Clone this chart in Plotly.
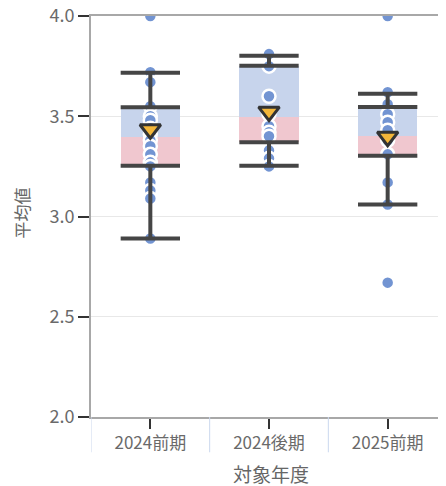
import plotly.graph_objects as go

# 対象年度ごとの平均値
categories = ["2024前期", "2024後期", "2025前期"]

points_2024a = [4.0, 3.72, 3.67, 3.55, 3.5, 3.48, 3.44, 3.41, 3.38, 3.35, 3.31,
                3.27, 3.25, 3.17, 3.13, 3.09, 2.89]
points_2024b = [3.81, 3.75, 3.6, 3.51, 3.45, 3.42, 3.40, 3.33, 3.29, 3.25]
points_2025a = [4.0, 3.62, 3.56, 3.51, 3.47, 3.43, 3.38, 3.31, 3.17, 3.06, 2.67]
points = [points_2024a, points_2024b, points_2025a]

q1 = [3.253, 3.37, 3.303]
median = [3.395, 3.495, 3.403]
q3 = [3.545, 3.752, 3.546]
whisker_lo = [2.89, 3.253, 3.06]
whisker_hi = [3.717, 3.802, 3.612]
means = [3.435, 3.523, 3.398]

FONT = "Noto Sans CJK JP"
BOX_W = 0.5
LINE_COLOR = "#454545"

xs = list(range(len(categories)))

fig = go.Figure()

# 箱：下半分（Q1〜中央値）ピンク、上半分（中央値〜Q3）青
fig.add_trace(go.Bar(
    x=xs, base=q1, y=[m - a for m, a in zip(median, q1)],
    width=BOX_W, marker=dict(color="#f0c7cf", line=dict(width=0)),
    hoverinfo="skip", showlegend=False,
))
fig.add_trace(go.Bar(
    x=xs, base=median, y=[b - m for b, m in zip(q3, median)],
    width=BOX_W, marker=dict(color="#c7d4ec", line=dict(width=0)),
    hoverinfo="skip", showlegend=False,
))

# 個別の点
for i, vals in enumerate(points):
    fig.add_trace(go.Scatter(
        x=[i] * len(vals), y=vals, mode="markers",
        marker=dict(size=13, color="#7294d2", line=dict(width=2.5, color="white")),
        showlegend=False,
    ))

# ひげと四分位線
lx, ly = [], []
h = BOX_W / 2
for i in xs:
    for v in (whisker_lo[i], q1[i], q3[i], whisker_hi[i]):
        lx += [i - h, i + h, None]
        ly += [v, v, None]
    lx += [i, i, None, i, i, None]
    ly += [whisker_lo[i], q1[i], None, q3[i], whisker_hi[i], None]
fig.add_trace(go.Scatter(
    x=lx, y=ly, mode="lines", line=dict(color=LINE_COLOR, width=4),
    hoverinfo="skip", showlegend=False,
))

# 平均値
fig.add_trace(go.Scatter(
    x=xs, y=means, mode="markers",
    marker=dict(symbol="triangle-down", size=18, color="#f3b63a",
                line=dict(width=3, color="#333333")),
    showlegend=False,
))

# カテゴリ境界の区切り線
for b in [i - 0.5 for i in xs] + [len(xs) - 0.5]:
    fig.add_shape(type="line", xref="x", yref="paper", x0=b, x1=b, y0=0, y1=-0.088,
                  line=dict(color="#cbd8ee", width=1))

# 軸タイトル
fig.add_annotation(text="平均値", xref="paper", yref="paper", x=-0.194, y=0.51,
                   textangle=-90, showarrow=False, xanchor="center", yanchor="middle",
                   font=dict(size=17, color="#666666"))
fig.add_annotation(text="対象年度", xref="paper", yref="paper", x=0.507, y=-0.142,
                   showarrow=False, xanchor="center", yanchor="middle",
                   font=dict(size=19, color="#666666"))

fig.update_layout(
    width=446, height=486,
    margin=dict(l=83, r=7, t=8, b=77),
    plot_bgcolor="white", paper_bgcolor="white",
    barmode="overlay", bargap=0,
    font=dict(family=FONT, color="#666666", size=15),
    xaxis=dict(
        range=[-0.5, 2.5], tickvals=xs, ticktext=categories,
        showgrid=False, zeroline=False, automargin=False,
        showline=True, linecolor="#a8a8a8", linewidth=2, mirror=True,
        ticks="outside", ticklen=10, tickwidth=2, tickcolor="#333333",
        tickfont=dict(size=17, color="#6a6a6a"), ticklabeloverflow="allow",
    ),
    yaxis=dict(
        range=[2.0, 4.0], tickvals=[2.0, 2.5, 3.0, 3.5, 4.0],
        tickformat=".1f", automargin=False, ticklabeloverflow="allow",
        showgrid=True, gridcolor="#e8e8e8", gridwidth=1, zeroline=False,
        showline=True, linecolor="#a8a8a8", linewidth=2,
        ticks="outside", ticklen=11, tickwidth=2, tickcolor="#333333",
        tickfont=dict(size=18, color="#6a6a6a"),
    ),
)

fig.write_html("out.html")
